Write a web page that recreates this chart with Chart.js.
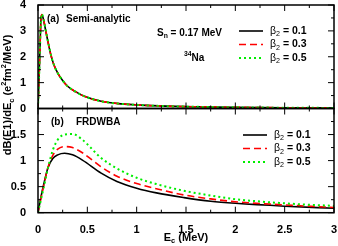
<!DOCTYPE html>
<html>
<head>
<meta charset="utf-8">
<script src="https://cdn.jsdelivr.net/npm/chart.js@4.4.1/dist/chart.umd.min.js"></script>
<style>
  body { margin: 0; background: #fff; }
  #wrap { position: relative; width: 338px; height: 246px; }
  canvas { position: absolute; left: 0; top: 0; }
</style>
</head>
<body>
<div id="wrap">
  <canvas id="topChart" width="338" height="246"></canvas>
  <canvas id="botChart" width="338" height="246"></canvas>
</div>
<script>
// panel (a): semi-analytic, E_c in MeV
const energyA = [0, 0.01, 0.02, 0.03, 0.04, 0.055, 0.08, 0.1, 0.13, 0.16, 0.2, 0.25, 0.3, 0.38, 0.47, 0.64, 0.84, 1.04, 1.3, 1.6, 2.0, 2.5, 3.0];
const semiB01 = [0, 1.1, 2.3, 3.45, 3.62, 3.45, 2.97, 2.6, 2.08, 1.7, 1.37, 1.08, 0.86, 0.65, 0.47, 0.28, 0.18, 0.13, 0.09, 0.065, 0.045, 0.03, 0.022];
const semiB03 = [0, 1.1, 2.3, 3.46, 3.63, 3.46, 2.98, 2.6, 2.08, 1.7, 1.37, 1.08, 0.86, 0.65, 0.47, 0.28, 0.18, 0.13, 0.09, 0.065, 0.045, 0.03, 0.022];
const semiB05 = [0, 1.1, 2.31, 3.47, 3.64, 3.47, 2.99, 2.61, 2.09, 1.7, 1.37, 1.08, 0.86, 0.65, 0.47, 0.28, 0.18, 0.13, 0.09, 0.065, 0.045, 0.03, 0.022];

// panel (b): FRDWBA
const energyB = [0, 0.03, 0.06, 0.1, 0.15, 0.2, 0.27, 0.35, 0.45, 0.64, 0.8, 1.0, 1.2, 1.48, 1.75, 2.0, 2.5, 3.0];
const frdB01 = [0, 0.3, 0.56, 0.86, 1.04, 1.11, 1.14, 1.11, 1.01, 0.76, 0.6, 0.47, 0.38, 0.29, 0.22, 0.18, 0.125, 0.085];
const frdB03 = [0, 0.28, 0.54, 0.86, 1.1, 1.22, 1.27, 1.25, 1.15, 0.88, 0.7, 0.56, 0.46, 0.34, 0.265, 0.21, 0.15, 0.1];
const frdB05 = [0, 0.25, 0.5, 0.85, 1.2, 1.4, 1.5, 1.51, 1.4, 1.05, 0.85, 0.67, 0.55, 0.42, 0.33, 0.26, 0.18, 0.13];

const betaLabels = ['0.1', '0.3', '0.5'];
const xRange = [0, 3];
const yRangeA = [0, 4];
const yRangeB = [0, 2];

const FONT = '"Liberation Sans", Arial, sans-serif';
const styles = [
  { color: '#000000', width: 1.6, dash: [], order: 3 },
  { color: '#ff0000', width: 1.6, dash: [7, 4], order: 2 },
  { color: '#00ee00', width: 2, dash: [2, 3], order: 1 }
];

function makeDatasets(xs, series) {
  return series.map((ys, i) => ({
    label: 'β2 = ' + betaLabels[i],
    data: xs.map((x, j) => ({ x: x, y: ys[j] })),
    borderColor: styles[i].color,
    borderWidth: styles[i].width,
    borderDash: styles[i].dash,
    order: styles[i].order,
    pointRadius: 0,
    fill: false,
    cubicInterpolationMode: 'monotone'
  }));
}

function fontFor(p, size) {
  const s = p[1] ? size * 0.68 : size;
  return (p[2] || 'bold') + ' ' + s + 'px ' + FONT;
}

// draw text made of pieces: [text, 'sub'|'sup'|'', weight]
function drawRich(ctx, x, y, parts, size, align) {
  let total = 0;
  parts.forEach(p => { ctx.font = fontFor(p, size); total += ctx.measureText(p[0]).width; });
  let cx = align === 'center' ? x - total / 2 : x;
  ctx.textAlign = 'left';
  ctx.textBaseline = 'middle';
  parts.forEach(p => {
    ctx.font = fontFor(p, size);
    const dy = p[1] === 'sub' ? size * 0.32 : p[1] === 'sup' ? -size * 0.38 : 0;
    ctx.fillText(p[0], cx, y + dy);
    cx += ctx.measureText(p[0]).width;
  });
}

function line(ctx, x1, y1, x2, y2) {
  ctx.beginPath(); ctx.moveTo(x1, y1); ctx.lineTo(x2, y2); ctx.stroke();
}

function drawFrame(chart, yStep, yMajor) {
  const { ctx, chartArea: a, scales } = chart;
  const xs = scales.x, ys = scales.y;
  ctx.save();
  ctx.strokeStyle = '#000';
  ctx.lineWidth = 1;
  for (let k = 0; k <= 12; k++) {
    const v = k * 0.25;
    const px = xs.getPixelForValue(v);
    const len = k % 2 === 0 ? 6 : 3;
    line(ctx, px, a.top, px, a.top + len);
    line(ctx, px, a.bottom, px, a.bottom - len);
  }
  const n = Math.round((ys.max - ys.min) / yStep);
  for (let k = 0; k <= n; k++) {
    const v = ys.min + k * yStep;
    const py = ys.getPixelForValue(v);
    const len = k % yMajor === 0 ? 6 : 3;
    line(ctx, a.left, py, a.left + len, py);
    line(ctx, a.right, py, a.right - len, py);
  }
  ctx.lineWidth = 1.5;
  ctx.strokeRect(a.left, a.top, a.right - a.left, a.bottom - a.top);
  ctx.restore();
}

function drawLegend(ctx, x, y0, gap, lineLen) {
  ctx.save();
  styles.forEach((s, i) => {
    const y = y0 + i * gap;
    ctx.strokeStyle = s.color;
    ctx.lineWidth = s.width;
    ctx.setLineDash(s.dash);
    line(ctx, x, y, x + lineLen, y);
    ctx.setLineDash([]);
    ctx.fillStyle = '#000';
    drawRich(ctx, x + lineLen + 7, y, [['β', '', 'normal'], ['2', 'sub', 'normal'], [' = ' + betaLabels[i], '']], 10.5, 'left');
  });
  ctx.restore();
}

const tickFont = { family: FONT, size: 11, weight: 'bold' };

const topPlugin = {
  id: 'topDeco',
  afterDraw(chart) {
    const ctx = chart.ctx;
    drawFrame(chart, 0.5, 2);
    ctx.save();
    ctx.fillStyle = '#000';
    drawRich(ctx, 47, 19, [['(a)', '']], 10, 'left');
    drawRich(ctx, 66, 19, [['Semi-analytic', '']], 10, 'left');
    drawRich(ctx, 157, 33, [['S', ''], ['n', 'sub'], [' = 0.17 MeV', '']], 10, 'left');
    drawRich(ctx, 184, 58, [['34', 'sup'], ['Na', '']], 10, 'left');
    drawLegend(ctx, 239, 31, 13.5, 24);
    ctx.restore();
  }
};

const botPlugin = {
  id: 'botDeco',
  afterDraw(chart) {
    const ctx = chart.ctx;
    drawFrame(chart, 0.25, 2);
    ctx.save();
    ctx.fillStyle = '#000';
    drawRich(ctx, 51, 122, [['(b)', '']], 10, 'left');
    drawRich(ctx, 76, 122, [['FRDWBA', '']], 10, 'left');
    drawLegend(ctx, 243, 135, 13.5, 24);
    const a = chart.chartArea;
    drawRich(ctx, (a.left + a.right) / 2, 237.5, [['E', ''], ['c', 'sub'], [' (MeV)', '']], 11, 'center');
    ctx.translate(8, 95);
    ctx.rotate(-Math.PI / 2);
    drawRich(ctx, 0, 0, [['dB(E1)/dE', ''], ['c', 'sub'], [' (e', ''], ['2', 'sup'], ['fm', ''], ['2', 'sup'], ['/MeV)', '']], 11, 'center');
    ctx.restore();
  }
};

function yAxis(range, step, hideTop) {
  return {
    type: 'linear', min: range[0], max: range[1],
    grid: { display: false }, border: { display: false },
    ticks: {
      stepSize: step, color: '#000', font: tickFont, padding: 4,
      callback: v => (hideTop && v === range[1]) ? '' : String(v)
    },
    afterFit(s) { s.width = 38; s.paddingTop = 0; s.paddingBottom = 0; }
  };
}

new Chart(document.getElementById('topChart'), {
  type: 'line',
  data: { datasets: makeDatasets(energyA, [semiB01, semiB03, semiB05]) },
  options: {
    responsive: false, animation: false,
    layout: { padding: { left: 0, top: 5, right: 4, bottom: 137.5 } },
    plugins: { legend: { display: false }, tooltip: { enabled: false } },
    scales: {
      x: { type: 'linear', min: xRange[0], max: xRange[1], display: false },
      y: yAxis(yRangeA, 1, false)
    }
  },
  plugins: [topPlugin]
});

new Chart(document.getElementById('botChart'), {
  type: 'line',
  data: { datasets: makeDatasets(energyB, [frdB01, frdB03, frdB05]) },
  options: {
    responsive: false, animation: false,
    layout: { padding: { left: 0, top: 108.5, right: 4, bottom: 0 } },
    plugins: { legend: { display: false }, tooltip: { enabled: false } },
    scales: {
      x: {
        type: 'linear', min: xRange[0], max: xRange[1],
        grid: { display: false }, border: { display: false },
        ticks: { stepSize: 0.5, color: '#000', font: tickFont, padding: 3, maxRotation: 0, callback: v => String(v) },
        afterFit(s) { s.height = 33.3; s.paddingLeft = 0; s.paddingRight = 0; }
      },
      y: yAxis(yRangeB, 0.5, true)
    }
  },
  plugins: [botPlugin]
});
</script>
</body>
</html>
